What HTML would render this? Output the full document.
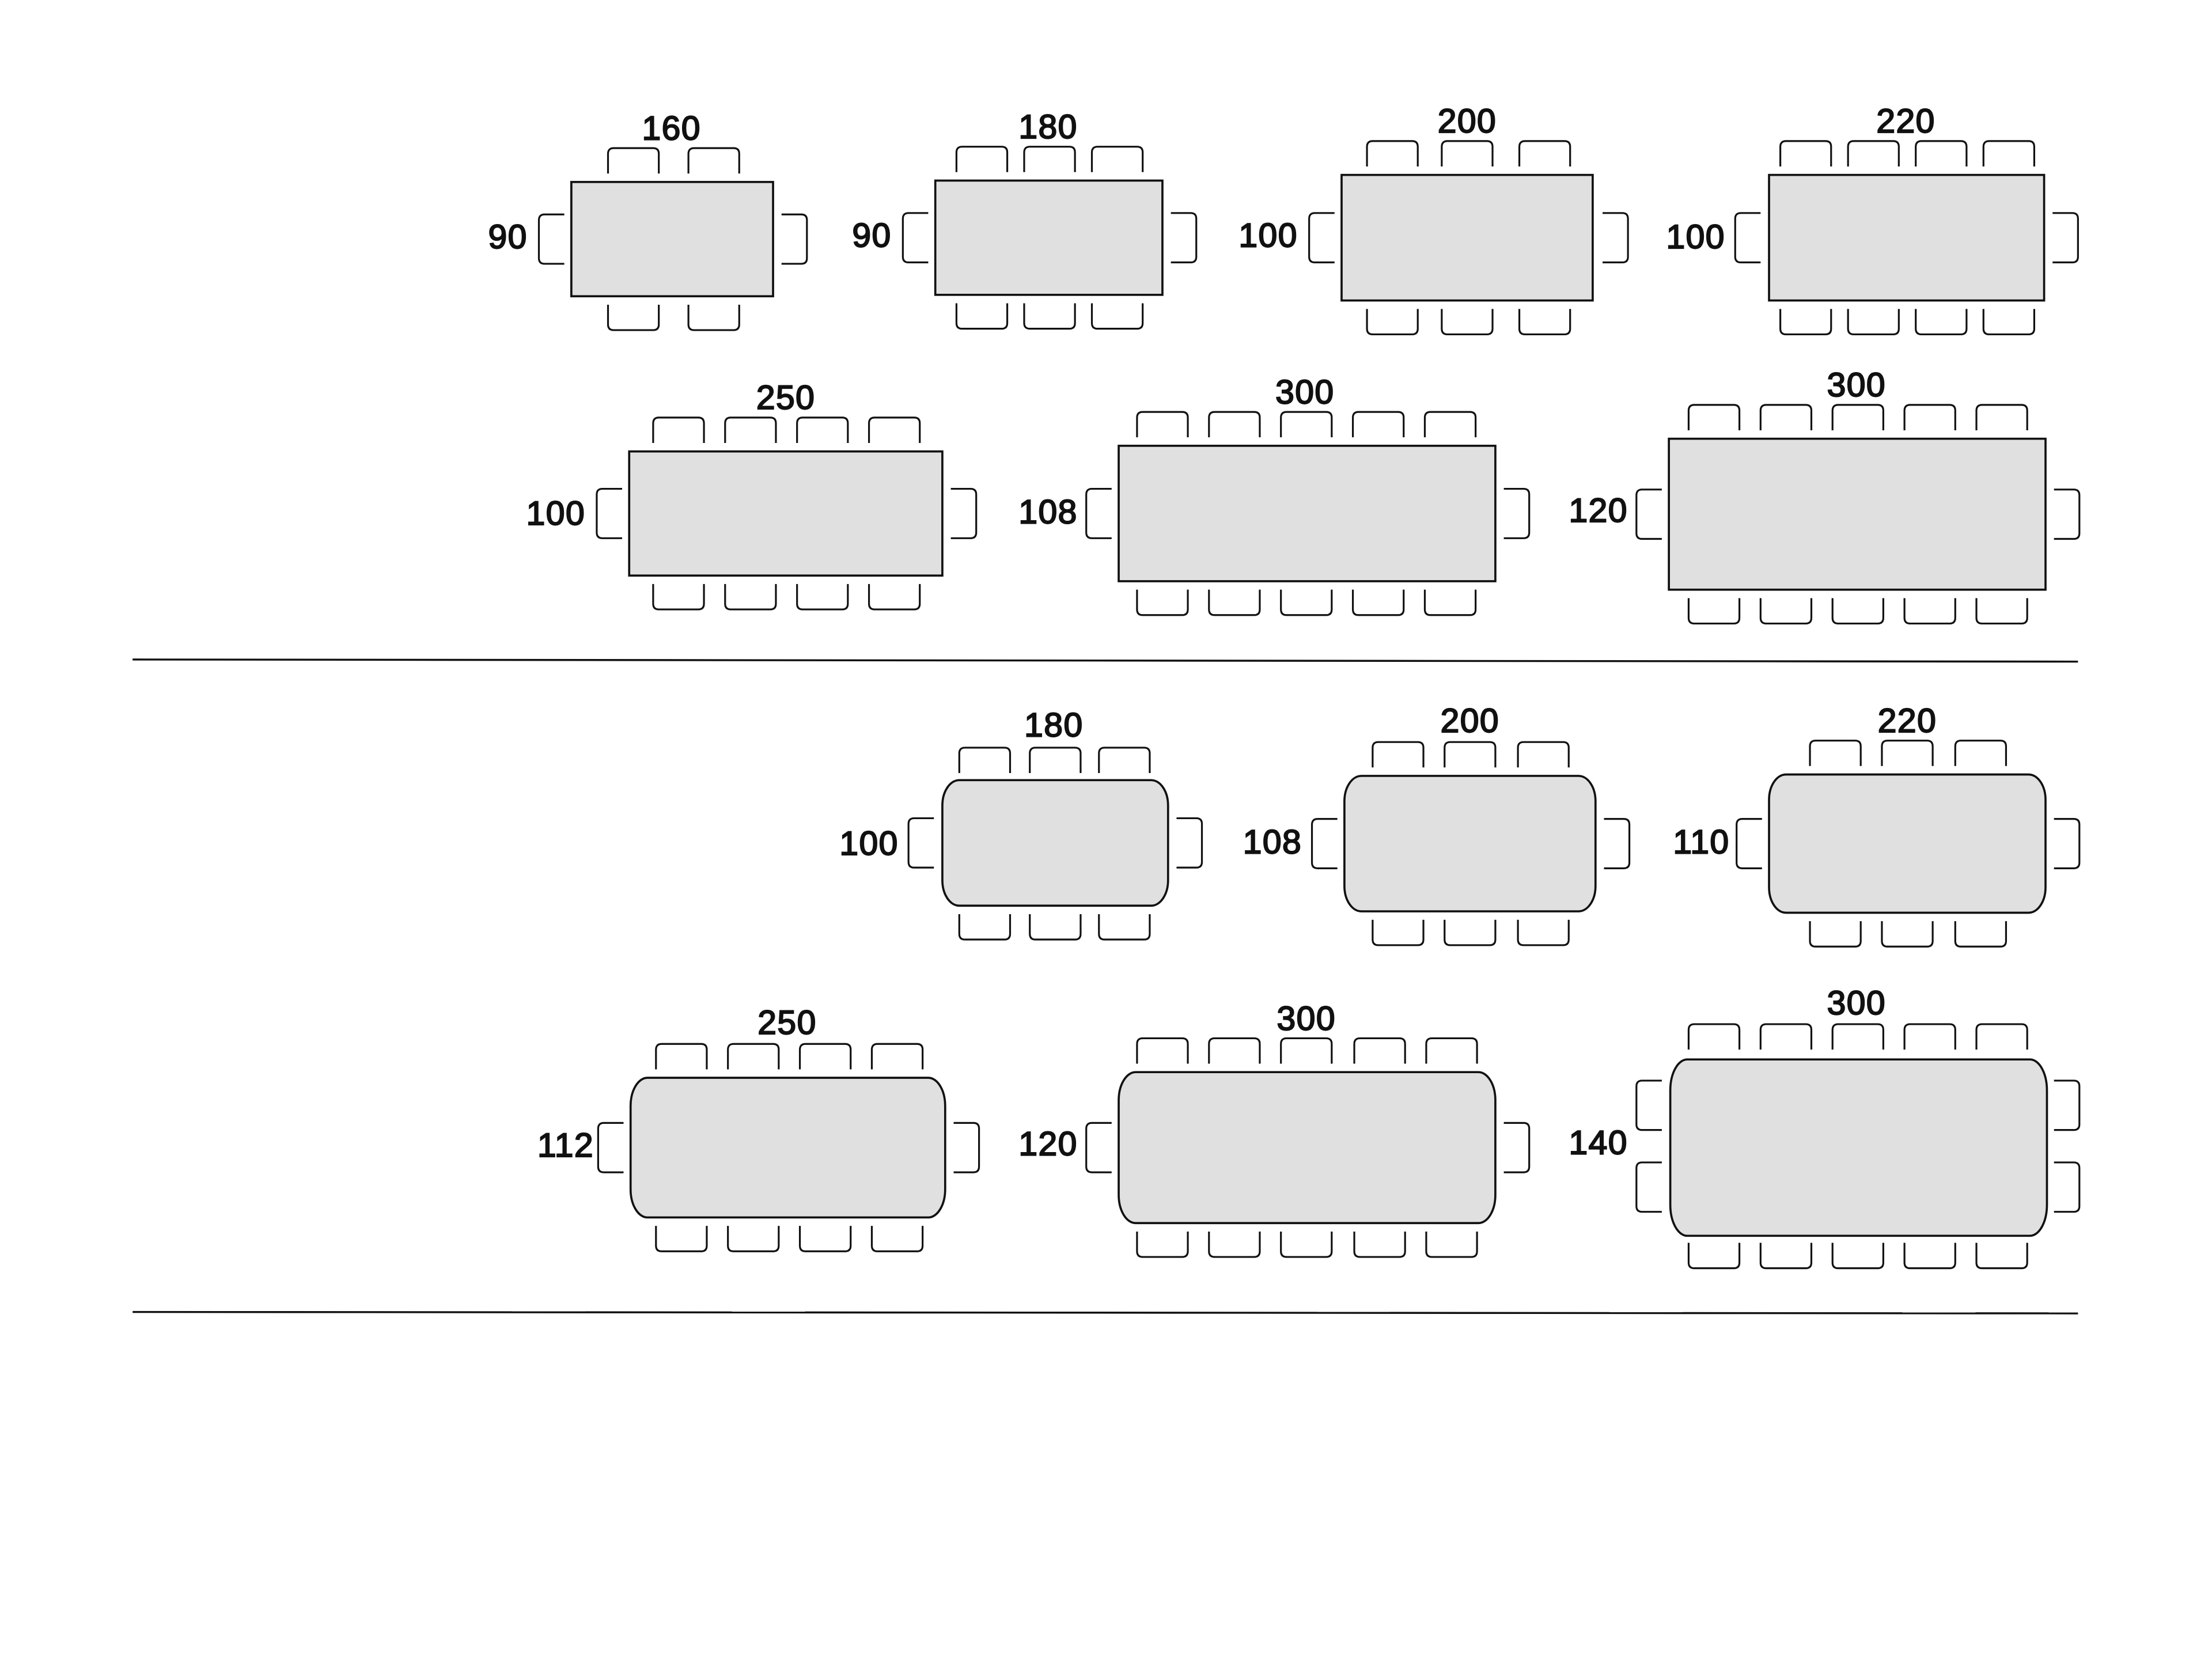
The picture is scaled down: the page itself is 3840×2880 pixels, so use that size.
<!DOCTYPE html>
<html><head><meta charset="utf-8"><style>
html,body{margin:0;padding:0;background:#fff;}
svg{display:block;}
text{font-family:"Liberation Sans",sans-serif;font-size:24px;fill:#111;stroke:#111;stroke-width:0.9;text-anchor:middle;letter-spacing:0.6px;}
</style></head><body>
<svg width="3840" height="2880" viewBox="0 0 1568 1176" xmlns="http://www.w3.org/2000/svg">
<defs>
<path id="ct" d="M0 18V4Q0 0 4 0H32Q36 0 36 4V18" fill="none" stroke="#111" stroke-width="1.3"/>
<path id="cb" d="M0 0V14Q0 18 4 18H32Q36 18 36 14V0" fill="none" stroke="#111" stroke-width="1.3"/>
<path id="cl" d="M18 0H4Q0 0 0 4V31Q0 35 4 35H18" fill="none" stroke="#111" stroke-width="1.3"/>
<path id="cr" d="M0 0H14Q18 0 18 4V31Q18 35 14 35H0" fill="none" stroke="#111" stroke-width="1.3"/>
</defs>
<g fill="#e0e0e0" stroke="#111" stroke-width="1.5">
<rect x="405" y="129" width="143" height="81"/>
<rect x="663" y="128" width="161" height="81"/>
<rect x="951" y="124" width="178" height="89"/>
<rect x="1254" y="124" width="195" height="89"/>
<rect x="446" y="320" width="222" height="88"/>
<rect x="793" y="316" width="267" height="96"/>
<rect x="1183" y="311" width="267" height="107"/>
<rect x="668" y="553" width="160" height="89" rx="12" ry="18"/>
<rect x="953" y="550" width="178" height="96" rx="12" ry="18"/>
<rect x="1254" y="549" width="196" height="98" rx="12" ry="18"/>
<rect x="447" y="764" width="223" height="99" rx="12" ry="20"/>
<rect x="793" y="760" width="267" height="107" rx="12" ry="20"/>
<rect x="1184" y="751" width="267" height="125" rx="12" ry="22"/>
</g>
<use href="#ct" x="431" y="105"/><use href="#ct" x="488" y="105"/>
<use href="#cb" x="431" y="216"/><use href="#cb" x="488" y="216"/>
<use href="#cl" x="382" y="152"/><use href="#cr" x="554" y="152"/>
<use href="#ct" x="678" y="104"/><use href="#ct" x="726" y="104"/><use href="#ct" x="774" y="104"/>
<use href="#cb" x="678" y="215"/><use href="#cb" x="726" y="215"/><use href="#cb" x="774" y="215"/>
<use href="#cl" x="640" y="151"/><use href="#cr" x="830" y="151"/>
<use href="#ct" x="969" y="100"/><use href="#ct" x="1022" y="100"/><use href="#ct" x="1077" y="100"/>
<use href="#cb" x="969" y="219"/><use href="#cb" x="1022" y="219"/><use href="#cb" x="1077" y="219"/>
<use href="#cl" x="928" y="151"/><use href="#cr" x="1136" y="151"/>
<use href="#ct" x="1262" y="100"/><use href="#ct" x="1310" y="100"/><use href="#ct" x="1358" y="100"/><use href="#ct" x="1406" y="100"/>
<use href="#cb" x="1262" y="219"/><use href="#cb" x="1310" y="219"/><use href="#cb" x="1358" y="219"/><use href="#cb" x="1406" y="219"/>
<use href="#cl" x="1230" y="151"/><use href="#cr" x="1455" y="151"/>
<use href="#ct" x="463" y="296"/><use href="#ct" x="514" y="296"/><use href="#ct" x="565" y="296"/><use href="#ct" x="616" y="296"/>
<use href="#cb" x="463" y="414"/><use href="#cb" x="514" y="414"/><use href="#cb" x="565" y="414"/><use href="#cb" x="616" y="414"/>
<use href="#cl" x="423" y="346.5"/><use href="#cr" x="674" y="346.5"/>
<use href="#ct" x="806" y="292"/><use href="#ct" x="857" y="292"/><use href="#ct" x="908" y="292"/><use href="#ct" x="959" y="292"/><use href="#ct" x="1010" y="292"/>
<use href="#cb" x="806" y="418"/><use href="#cb" x="857" y="418"/><use href="#cb" x="908" y="418"/><use href="#cb" x="959" y="418"/><use href="#cb" x="1010" y="418"/>
<use href="#cl" x="770" y="346.5"/><use href="#cr" x="1066" y="346.5"/>
<use href="#ct" x="1197" y="287"/><use href="#ct" x="1248" y="287"/><use href="#ct" x="1299" y="287"/><use href="#ct" x="1350" y="287"/><use href="#ct" x="1401" y="287"/>
<use href="#cb" x="1197" y="424"/><use href="#cb" x="1248" y="424"/><use href="#cb" x="1299" y="424"/><use href="#cb" x="1350" y="424"/><use href="#cb" x="1401" y="424"/>
<use href="#cl" x="1160" y="347"/><use href="#cr" x="1456" y="347"/>
<use href="#ct" x="680" y="530"/><use href="#ct" x="730" y="530"/><use href="#ct" x="779" y="530"/>
<use href="#cb" x="680" y="648"/><use href="#cb" x="730" y="648"/><use href="#cb" x="779" y="648"/>
<use href="#cl" x="644" y="580"/><use href="#cr" x="834" y="580"/>
<use href="#ct" x="973" y="526"/><use href="#ct" x="1024" y="526"/><use href="#ct" x="1076" y="526"/>
<use href="#cb" x="973" y="652"/><use href="#cb" x="1024" y="652"/><use href="#cb" x="1076" y="652"/>
<use href="#cl" x="930" y="580.5"/><use href="#cr" x="1137" y="580.5"/>
<use href="#ct" x="1283" y="525"/><use href="#ct" x="1334" y="525"/><use href="#ct" x="1386" y="525"/>
<use href="#cb" x="1283" y="653"/><use href="#cb" x="1334" y="653"/><use href="#cb" x="1386" y="653"/>
<use href="#cl" x="1231" y="580.5"/><use href="#cr" x="1456" y="580.5"/>
<use href="#ct" x="465" y="740"/><use href="#ct" x="516" y="740"/><use href="#ct" x="567" y="740"/><use href="#ct" x="618" y="740"/>
<use href="#cb" x="465" y="869"/><use href="#cb" x="516" y="869"/><use href="#cb" x="567" y="869"/><use href="#cb" x="618" y="869"/>
<use href="#cl" x="424" y="796"/><use href="#cr" x="676" y="796"/>
<use href="#ct" x="806" y="736"/><use href="#ct" x="857" y="736"/><use href="#ct" x="908" y="736"/><use href="#ct" x="960" y="736"/><use href="#ct" x="1011" y="736"/>
<use href="#cb" x="806" y="873"/><use href="#cb" x="857" y="873"/><use href="#cb" x="908" y="873"/><use href="#cb" x="960" y="873"/><use href="#cb" x="1011" y="873"/>
<use href="#cl" x="770" y="796"/><use href="#cr" x="1066" y="796"/>
<use href="#ct" x="1197" y="726"/><use href="#ct" x="1248" y="726"/><use href="#ct" x="1299" y="726"/><use href="#ct" x="1350" y="726"/><use href="#ct" x="1401" y="726"/>
<use href="#cb" x="1197" y="881"/><use href="#cb" x="1248" y="881"/><use href="#cb" x="1299" y="881"/><use href="#cb" x="1350" y="881"/><use href="#cb" x="1401" y="881"/>
<use href="#cl" x="1160" y="766"/><use href="#cl" x="1160" y="824"/>
<use href="#cr" x="1456" y="766"/><use href="#cr" x="1456" y="824"/>
<line x1="94" y1="467.5" x2="1473" y2="469" stroke="#111" stroke-width="1.4"/>
<line x1="94" y1="930" x2="1473" y2="931" stroke="#111" stroke-width="1.4"/>
<text x="476" y="99">160</text><text x="360" y="176">90</text>
<text x="743" y="98">180</text><text x="618" y="175">90</text>
<text x="1040" y="94">200</text><text x="899" y="175">100</text>
<text x="1351" y="94">220</text><text x="1202" y="176">100</text>
<text x="557" y="290">250</text><text x="394" y="372">100</text>
<text x="925" y="286">300</text><text x="743" y="371">108</text>
<text x="1316" y="281">300</text><text x="1133" y="370">120</text>
<text x="747" y="522">180</text><text x="616" y="606">100</text>
<text x="1042" y="519">200</text><text x="902" y="605">108</text>
<text x="1352" y="519">220</text><text x="1206" y="605">110</text>
<text x="558" y="733">250</text><text x="401" y="820">112</text>
<text x="926" y="730">300</text><text x="743" y="819">120</text>
<text x="1316" y="719">300</text><text x="1133" y="818">140</text>
</svg>
</body></html>
